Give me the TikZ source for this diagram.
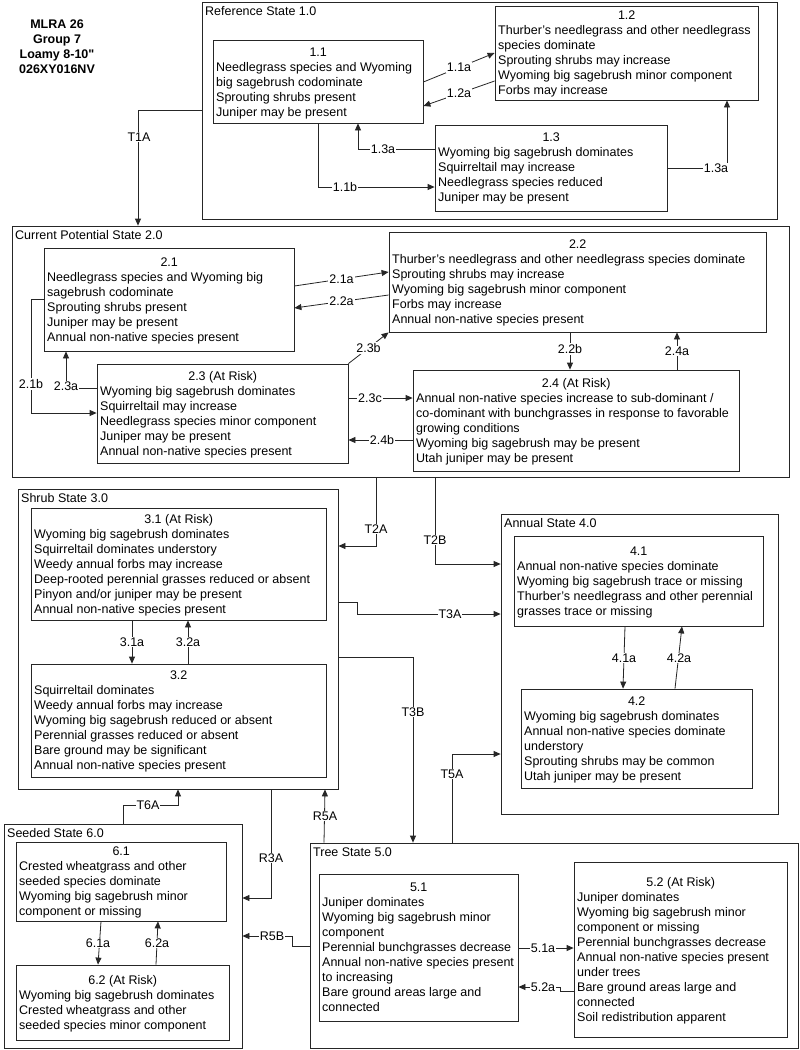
\documentclass[tikz,border=0pt]{standalone}
\usepackage{fontspec}
\setmainfont{Liberation Sans}[Ligatures=TeXOff]
\usetikzlibrary{arrows.meta,fit}
\tikzset{
  box/.style={draw=black!85, line width=0.8pt, inner sep=0pt},
  txt/.style={anchor=base west, inner sep=0pt, font=\fontsize{12.5}{15}\selectfont},
  conn/.style={draw=black!85, line width=0.8pt},
  arr/.style={conn, -{Triangle[length=7pt,width=6pt]}},
  lbl/.style={fill=white, inner sep=1pt, font=\fontsize{12.5}{15}\selectfont},
}
% name, x1, y1, x2, y2, title-y, title, body
\newcommand\stbox[8]{%
  \path (#2,#3) coordinate (#1-a) (#4,#5) coordinate (#1-b);
  \node[box, fit=(#1-a)(#1-b)] (#1) {};
  \node[txt] (#1-t) at ({#2+3},{#6+4.5}) {\parbox[t]{400pt}{\fontsize{12.5}{15}\selectfont\raggedright\makebox[\dimexpr #4pt-#2pt-6pt\relax][c]{#7}\\#8}};
}
% name, x1, y1, x2, y2, label
\newcommand\stcont[6]{%
  \path (#2,#3) coordinate (#1-a) (#4,#5) coordinate (#1-b);
  \node[box, fit=(#1-a)(#1-b)] (#1) {};
  \node[txt] (#1-l) at ({#2+3},{#3+13.5}) {#6};
}
\begin{document}
\begin{tikzpicture}[x=1pt,y=-1pt]
\useasboundingbox[fill=white] (0,0) rectangle (800,1050);

\node[align=center, font=\fontsize{12.5}{15}\selectfont\bfseries, inner sep=0pt] (title) at (57,47) {MLRA 26\\Group 7\\Loamy 8-10"\\026XY016NV};

% ---------- State 1
\stcont{s1}{202}{2}{777}{219}{Reference State 1.0}
\stbox{n11}{213}{40}{423}{123}{52}{1.1}{Needlegrass species and Wyoming\\big sagebrush codominate\\Sprouting shrubs present\\Juniper may be present}
\stbox{n12}{495}{6}{758}{100}{15}{1.2}{Thurber’s needlegrass and other needlegrass\\species dominate\\Sprouting shrubs may increase\\Wyoming big sagebrush minor component\\Forbs may increase}
\stbox{n13}{435}{125}{667}{211}{137}{1.3}{Wyoming big sagebrush dominates\\Squirreltail may increase\\Needlegrass species reduced\\Juniper may be present}

% ---------- State 2
\stcont{s2}{12}{226}{789}{477}{Current Potential State 2.0}
\stbox{n21}{44}{248}{294}{351}{262}{2.1}{Needlegrass species and Wyoming big\\sagebrush codominate\\Sprouting shrubs present\\Juniper may be present\\Annual non-native species present}
\stbox{n22}{389}{232}{766}{332}{244}{2.2}{Thurber’s needlegrass and other needlegrass species dominate\\Sprouting shrubs may increase\\Wyoming big sagebrush minor component\\Forbs may increase\\Annual non-native species present}
\stbox{n23}{97}{364}{348}{463}{376}{2.3 (At Risk)}{Wyoming big sagebrush dominates\\Squirreltail may increase\\Needlegrass species minor component\\Juniper may be present\\Annual non-native species present}
\stbox{n24}{413}{370}{739}{471}{383}{2.4 (At Risk)}{Annual non-native species increase to sub-dominant /\\co-dominant with bunchgrasses in response to favorable\\growing conditions\\Wyoming big sagebrush may be present\\Utah juniper may be present}

% ---------- State 3
\stcont{s3}{18}{489}{338}{789}{Shrub State 3.0}
\stbox{n31}{31}{508}{326}{620}{519}{3.1 (At Risk)}{Wyoming big sagebrush dominates\\Squirreltail dominates understory\\Weedy annual forbs may increase\\Deep-rooted perennial grasses reduced or absent\\Pinyon and/or juniper may be present\\Annual non-native species present}
\stbox{n32}{31}{664}{326}{777}{675}{3.2}{Squirreltail dominates\\Weedy annual forbs may increase\\Wyoming big sagebrush reduced or absent\\Perennial grasses reduced or absent\\Bare ground may be significant\\Annual non-native species present}

% ---------- State 4
\stcont{s4}{501}{514}{778}{814}{Annual State 4.0}
\stbox{n41}{514}{536}{763}{626}{551}{4.1}{Annual non-native species dominate\\Wyoming big sagebrush trace or missing\\Thurber’s needlegrass and other perennial\\grasses trace or missing}
\stbox{n42}{521}{689}{752}{788}{701}{4.2}{Wyoming big sagebrush dominates\\Annual non-native species dominate\\understory\\Sprouting shrubs may be common\\Utah juniper may be present}

% ---------- State 5
\stcont{s5}{310}{843}{798.5}{1048.5}{Tree State 5.0}
\stbox{n51}{319}{874}{518}{1021}{887}{5.1}{Juniper dominates\\Wyoming big sagebrush minor\\component\\Perennial bunchgrasses decrease\\Annual non-native species present\\to increasing\\Bare ground areas large and\\connected}
\stbox{n52}{574}{862}{787}{1037}{882}{5.2 (At Risk)}{Juniper dominates\\Wyoming big sagebrush minor\\component or missing\\Perennial bunchgrasses decrease\\Annual non-native species present\\under trees\\Bare ground areas large and\\connected\\Soil redistribution apparent}

% ---------- State 6
\stcont{s6}{4}{824}{242}{1048}{Seeded State 6.0}
\stbox{n61}{16}{842}{226}{921}{851}{6.1}{Crested wheatgrass and other\\seeded species dominate\\Wyoming big sagebrush minor\\component or missing}
\stbox{n62}{16}{965}{229}{1040}{980}{6.2 (At Risk)}{Wyoming big sagebrush dominates\\Crested wheatgrass and other\\seeded species minor component}

% ---------- connectors state 1
\draw[arr] (n11.east |- 0,82) -- node[lbl]{1.1a} (n12.west |- 0,53);
\draw[arr] (n12.west |- 0,81) -- node[lbl]{1.2a} (n11.east |- 0,106);
\draw[arr] (n13.west |- 0,149) -| (n11.south -| 358,0);
\node[lbl] at (383,149) {1.3a};
\draw[arr] (n11.south -| 318,0) |- (n13.west |- 0,187);
\node[lbl] at (345,187) {1.1b};
\draw[arr] (n13.east |- 0,168) -| (n12.south -| 727,0);
\node[lbl] at (716,168) {1.3a};
\draw[arr] (s1.west |- 0,110) -| (s2.north -| 138,0);
\node[lbl] at (139,137) {T1A};

% ---------- connectors state 2
\draw[arr] (n21.east |- 0,286) -- node[lbl]{2.1a} (n22.west |- 0,272);
\draw[arr] (n22.west |- 0,295) -- node[lbl]{2.2a} (n21.east |- 0,308);
\draw[arr] (n23.north east) -- node[lbl]{2.3b} (n22.south west);
\draw[arr] (n23.west |- 0,388) -| (n21.south -| 66,0);
\node[lbl] at (66,386) {2.3a};
\draw[arr] (n21.west |- 0,299) -| (31,413) -- (n23.west |- 0,413);
\node[lbl] at (31,384) {2.1b};
\draw[arr] (n23.east |- 0,398) -- (n24.west |- 0,398);
\node[lbl] at (370,398) {2.3c};
\draw[arr] (n24.west |- 0,440) -- (n23.east |- 0,440);
\node[lbl] at (382,440) {2.4b};
\draw[arr] (n22.south -| 570,0) -- (n24.north -| 570,0);
\node[lbl] at (570,349) {2.2b};
\draw[arr] (n24.north -| 677,0) -- (n22.south -| 677,0);
\node[lbl] at (677,351) {2.4a};
\draw[arr] (s2.south -| 376,0) |- (s3.east |- 0,546);
\node[lbl] at (376,529) {T2A};
\draw[arr] (s2.south -| 435,0) |- (s4.west |- 0,564);
\node[lbl] at (435,540) {T2B};

% ---------- connectors state 3 / 4
\draw[arr] (n31.south -| 132,0) -- (n32.north -| 132,0);
\node[lbl] at (132,642) {3.1a};
\draw[arr] (n32.north -| 188,0) -- (n31.south -| 188,0);
\node[lbl] at (188,642) {3.2a};
\draw[arr] (s3.east |- 0,602) -| (357,614) -- (s4.west |- 0,614);
\node[lbl] at (450,614) {T3A};
\draw[arr] (s3.east |- 0,657) -| (s5.north -| 413,0);
\node[lbl] at (413,712) {T3B};
\draw[arr] (s5.north -| 452,0) |- (s4.west |- 0,754);
\node[lbl] at (452,774) {T5A};
\draw[arr] (s5.north -| 324,0) -- (s3.south -| 325,0);
\node[lbl] at (325,816) {R5A};
\draw[arr] (s3.south -| 271,0) |- (s6.east |- 0,898);
\node[lbl] at (271,858) {R3A};
\draw[arr] (s6.north -| 123,0) |- (178,805) -- (s3.south -| 178,0);
\node[lbl] at (148,805) {T6A};
\draw[arr] (s5.west |- 0,946) -| (292,936) -- (s6.east |- 0,936);
\node[lbl] at (272,936) {R5B};
\draw[arr] (n41.south -| 625,0) -- (n42.north -| 623,0);
\node[lbl] at (624,658) {4.1a};
\draw[arr] (n42.north -| 675,0) -- (n41.south -| 682,0);
\node[lbl] at (679,658) {4.2a};

% ---------- connectors state 5 / 6
\draw[arr] (n51.east |- 0,948) -- (n52.west |- 0,948);
\node[lbl] at (543,948) {5.1a};
\draw[arr] (n52.west |- 0,991) -- (560,991) -- (560,987) -- (n51.east |- 0,987);
\node[lbl] at (543,987) {5.2a};
\draw[arr] (n61.south -| 101,0) -- (n62.north -| 98,0);
\node[lbl] at (98,943) {6.1a};
\draw[arr] (n62.north -| 156,0) -- (n61.south -| 158,0);
\node[lbl] at (157,943) {6.2a};
\end{tikzpicture}
\end{document}
